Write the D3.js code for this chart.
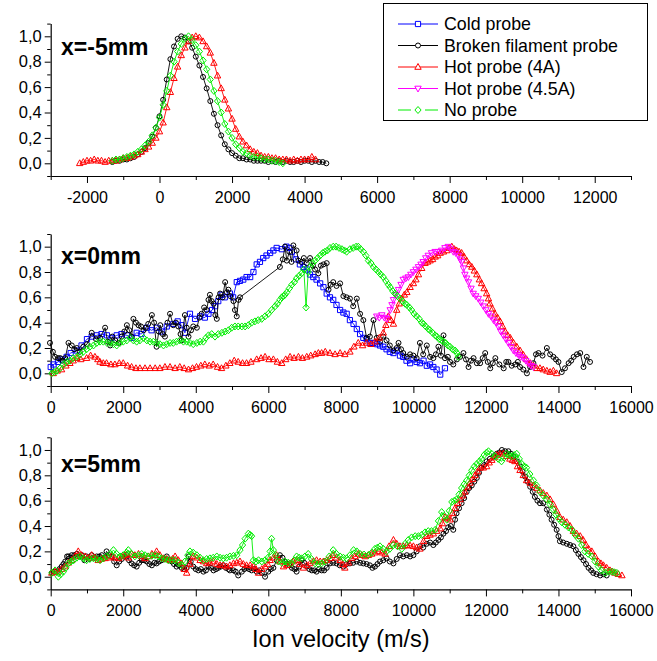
<!DOCTYPE html>
<html><head><meta charset="utf-8">
<script src="https://cdn.jsdelivr.net/npm/d3@7"></script>
<style>body{margin:0;background:#fff} text{font-family:"Liberation Sans",Arial,Helvetica,sans-serif}</style>
</head><body><svg id="c" width="657" height="661"></svg>
<script>
// ---------- DATA ----------
const seriesNames = ["Cold probe","Broken filament probe","Hot probe (4A)","Hot probe (4.5A)","No probe"];
const panelLabels = ["x=-5mm","x=0mm","x=5mm"];
const xTicksTop = [-2000,0,2000,4000,6000,8000,10000,12000];
const xTicksLower = [0,2000,4000,6000,8000,10000,12000,14000,16000];
const yTicks = [0,0.2,0.4,0.6,0.8,1.0];
const xTitle = "Ion velocity (m/s)";

// Panel x=-5mm
const topBroken = [[-1300,0.01],[-1200,0.02],[-1100,0.02],[-1000,0.03],[-900,0.03],[-800,0.04],[-700,0.05],[-600,0.07],[-500,0.09],[-400,0.12],[-300,0.16],[-200,0.21],[-100,0.28],[0,0.37],[100,0.50],[200,0.66],[300,0.82],[400,0.92],[500,0.98],[600,1.0],[700,0.99],[800,0.96],[900,0.91],[1000,0.84],[1100,0.77],[1200,0.68],[1300,0.59],[1400,0.49],[1500,0.39],[1600,0.30],[1700,0.22],[1800,0.15],[1900,0.11],[2000,0.08],[2100,0.06],[2200,0.04],[2300,0.04],[2400,0.03],[2500,0.03],[2600,0.02],[2700,0.02],[2800,0.02],[2900,0.02],[3000,0.01],[3100,0.02],[3200,0.01],[3300,0.02],[3400,0.01],[3500,0.02],[3600,0.01],[3700,0.01],[3800,0.02],[3900,0.01],[4000,0.02],[4100,0.02],[4200,0.01],[4300,0.02],[4400,0.01],[4500,0.01],[4600,0.0]];
const topHot4A = [[-2200,0.0],[-2100,0.01],[-2000,0.02],[-1900,0.02],[-1800,0.03],[-1700,0.02],[-1600,0.02],[-1500,0.01],[-1400,0.02],[-1300,0.02],[-1200,0.02],[-1100,0.03],[-1000,0.04],[-900,0.04],[-800,0.05],[-700,0.06],[-600,0.07],[-500,0.09],[-400,0.11],[-300,0.13],[-200,0.16],[-100,0.20],[0,0.25],[100,0.32],[200,0.44],[300,0.56],[400,0.67],[500,0.76],[600,0.85],[700,0.91],[800,0.96],[900,0.99],[1000,1.0],[1100,0.99],[1200,0.96],[1300,0.92],[1400,0.87],[1500,0.79],[1600,0.69],[1700,0.59],[1800,0.50],[1900,0.43],[2000,0.35],[2100,0.27],[2200,0.21],[2300,0.17],[2400,0.14],[2500,0.11],[2600,0.09],[2700,0.08],[2800,0.06],[2900,0.05],[3000,0.05],[3100,0.04],[3200,0.04],[3300,0.03],[3400,0.03],[3500,0.03],[3600,0.02],[3700,0.03],[3800,0.02],[3900,0.03],[4000,0.03],[4100,0.03],[4200,0.05],[4300,0.03]];
const topNone = [[-1300,0.02],[-1200,0.03],[-1100,0.03],[-1000,0.04],[-900,0.05],[-800,0.06],[-700,0.07],[-600,0.09],[-500,0.11],[-400,0.14],[-300,0.17],[-200,0.22],[-100,0.28],[0,0.36],[100,0.46],[200,0.57],[300,0.69],[400,0.80],[500,0.88],[600,0.94],[700,0.98],[800,1.0],[900,0.97],[1000,0.93],[1100,0.88],[1200,0.81],[1300,0.74],[1400,0.66],[1500,0.57],[1600,0.49],[1700,0.40],[1800,0.31],[1900,0.25],[2000,0.20],[2100,0.15],[2200,0.12],[2300,0.09],[2400,0.08],[2500,0.06],[2600,0.05],[2700,0.05],[2800,0.04],[2900,0.03],[3000,0.03],[3100,0.02],[3200,0.02],[3300,0.01],[3400,0.0]];

// Panel x=0mm
const midCold = [[0,0.05],[80,0.07],[200,0.09],[300,0.11],[440,0.13],[550,0.16],[720,0.18],[850,0.22],[1000,0.27],[1130,0.29],[1270,0.30],[1400,0.31],[1550,0.30],[1680,0.28],[1820,0.30],[1950,0.31],[2100,0.30],[2230,0.28],[2370,0.32],[2500,0.31],[2650,0.36],[2780,0.34],[2920,0.36],[3060,0.33],[3200,0.37],[3380,0.39],[3500,0.41],[3610,0.38],[3700,0.32],[3840,0.47],[3980,0.43],[4120,0.45],[4250,0.44],[4350,0.47],[4450,0.50],[4530,0.53],[4620,0.57],[4710,0.62],[4800,0.60],[4940,0.63],[5030,0.60],[5130,0.72],[5220,0.73],[5310,0.74],[5400,0.76],[5500,0.76],[5590,0.80],[5680,0.86],[5770,0.88],[5860,0.91],[5950,0.93],[6050,0.95],[6140,0.97],[6230,0.99],[6370,0.98],[6500,1.0],[6580,0.99],[6650,0.96],[6760,0.90],[6870,0.86],[6970,0.84],[7060,0.82],[7150,0.78],[7240,0.76],[7330,0.74],[7430,0.71],[7520,0.68],[7610,0.63],[7700,0.60],[7790,0.58],[7880,0.54],[7980,0.50],[8070,0.48],[8160,0.47],[8250,0.42],[8350,0.39],[8440,0.35],[8530,0.31],[8620,0.28],[8710,0.27],[8800,0.24],[8900,0.24],[9000,0.23],[9080,0.22],[9170,0.21],[9260,0.19],[9350,0.17],[9450,0.16],[9540,0.18],[9630,0.14],[9720,0.13],[9810,0.10],[9910,0.08],[10000,0.11],[10090,0.09],[10180,0.08],[10280,0.10],[10370,0.06],[10460,0.07],[10550,0.05],[10640,0.03],[10740,-0.01],[10870,0.04]];
const midBroken = [[-20,0.24],[60,0.17],[120,0.13],[200,0.12],[260,0.12],[330,0.10],[400,0.12],[490,0.24],[580,0.22],[650,0.19],[720,0.20],[800,0.17],[900,0.21],[1000,0.23],[1130,0.32],[1250,0.27],[1360,0.28],[1500,0.36],[1570,0.25],[1640,0.22],[1700,0.29],[1780,0.26],[1870,0.24],[1960,0.29],[2030,0.33],[2100,0.38],[2170,0.34],[2230,0.29],[2280,0.43],[2350,0.40],[2420,0.38],[2490,0.37],[2560,0.34],[2620,0.36],[2690,0.39],[2790,0.46],[2850,0.40],[2920,0.21],[2980,0.33],[3020,0.38],[3090,0.31],[3150,0.29],[3220,0.40],[3290,0.47],[3380,0.38],[3450,0.40],[3520,0.37],[3580,0.31],[3610,0.26],[3700,0.46],[3750,0.36],[3800,0.29],[3870,0.34],[3930,0.37],[4030,0.36],[4100,0.44],[4160,0.47],[4230,0.52],[4300,0.50],[4350,0.58],[4390,0.62],[4440,0.57],[4490,0.55],[4540,0.46],[4580,0.43],[4630,0.60],[4670,0.63],[4740,0.60],[4810,0.72],[4860,0.64],[4900,0.66],[4950,0.61],[5040,0.57],[5080,0.50],[5130,0.45],[5180,0.58],[5220,0.60],[6320,0.84],[6400,0.90],[6460,1.0],[6510,0.89],[6580,0.96],[6640,0.88],[6690,1.01],[6780,0.97],[6830,0.89],[6920,0.88],[6980,0.91],[7060,0.87],[7150,0.91],[7230,0.85],[7290,0.82],[7380,0.79],[7450,0.85],[7520,0.86],[7610,0.87],[7660,0.66],[7720,0.70],[7790,0.72],[7880,0.69],[7980,0.71],[8070,0.61],[8160,0.60],[8250,0.59],[8340,0.53],[8440,0.59],[8530,0.47],[8620,0.42],[8710,0.28],[8800,0.29],[8900,0.42],[8990,0.28],[9080,0.25],[9170,0.29],[9260,0.26],[9350,0.22],[9450,0.18],[9540,0.20],[9590,0.24],[9660,0.19],[9720,0.16],[9820,0.13],[9910,0.15],[10000,0.14],[10090,0.12],[10180,0.24],[10270,0.15],[10370,0.22],[10460,0.13],[10550,0.12],[10620,0.15],[10690,0.21],[10760,0.14],[10830,0.30],[10870,0.12],[10950,0.13],[11010,0.09],[11100,0.07],[11200,0.11],[11290,0.13],[11380,0.16],[11450,0.11],[11520,0.05],[11590,0.10],[11660,0.12],[11750,0.08],[11840,0.08],[11910,0.12],[11980,0.16],[12050,0.09],[12120,0.04],[12190,0.08],[12260,0.12],[12370,0.07],[12490,0.04],[12560,0.09],[12620,0.09],[12710,0.06],[12810,0.07],[12880,0.09],[12940,0.05],[13030,0.03],[13130,0.0],[13220,0.05],[13310,0.08],[13380,0.15],[13450,0.16],[13560,0.14],[13680,0.20],[13770,0.15],[13860,0.13],[13930,0.11],[14000,0.09],[14090,0.01],[14180,0.04],[14280,0.08],[14350,0.10],[14420,0.13],[14510,0.15],[14600,0.16],[14690,0.05],[14780,0.13],[14870,0.09]];
const midHot4A = [[70,0.0],[180,0.02],[300,0.03],[420,0.06],[530,0.08],[620,0.10],[720,0.12],[830,0.11],[990,0.12],[1100,0.14],[1220,0.13],[1300,0.11],[1360,0.09],[1450,0.08],[1540,0.08],[1660,0.07],[1770,0.07],[1890,0.08],[2000,0.08],[2120,0.06],[2230,0.05],[2350,0.04],[2460,0.04],[2600,0.04],[2740,0.04],[2880,0.04],[3010,0.04],[3150,0.05],[3290,0.05],[3430,0.04],[3560,0.05],[3680,0.04],[3800,0.03],[3910,0.04],[4020,0.05],[4140,0.06],[4250,0.07],[4370,0.06],[4480,0.07],[4600,0.05],[4710,0.04],[4830,0.06],[4940,0.08],[5060,0.10],[5170,0.09],[5290,0.08],[5400,0.08],[5520,0.09],[5680,0.11],[5800,0.12],[5910,0.13],[6020,0.11],[6140,0.11],[6250,0.09],[6370,0.08],[6480,0.11],[6600,0.13],[6710,0.12],[6830,0.13],[6940,0.12],[7060,0.13],[7170,0.14],[7290,0.15],[7380,0.16],[7470,0.16],[7570,0.17],[7700,0.16],[7840,0.15],[7980,0.16],[8110,0.15],[8250,0.17],[8360,0.21],[8480,0.24],[8600,0.22],[8710,0.24],[8830,0.23],[8940,0.25],[9060,0.28],[9170,0.32],[9240,0.38],[9310,0.45],[9380,0.42],[9450,0.39],[9540,0.50],[9610,0.55],[9680,0.59],[9750,0.62],[9820,0.64],[9910,0.68],[10000,0.71],[10070,0.74],[10140,0.78],[10230,0.83],[10320,0.87],[10390,0.88],[10460,0.89],[10530,0.90],[10600,0.92],[10670,0.93],[10740,0.95],[10830,0.96],[10920,0.97],[10990,0.99],[11060,1.0],[11130,0.98],[11190,0.97],[11260,0.96],[11330,0.95],[11400,0.92],[11470,0.89],[11540,0.86],[11610,0.84],[11680,0.81],[11750,0.78],[11820,0.74],[11880,0.71],[11950,0.67],[12020,0.63],[12070,0.59],[12110,0.55],[12180,0.51],[12250,0.47],[12320,0.44],[12390,0.41],[12460,0.37],[12530,0.33],[12600,0.30],[12670,0.28],[12760,0.24],[12850,0.21],[12940,0.18],[13030,0.145],[13120,0.11],[13220,0.08],[13310,0.06],[13400,0.04],[13490,0.04],[13580,0.03],[13680,0.02],[13770,0.01],[13860,0.02],[13950,0.0]];
const midHot45A = [[8990,0.45],[9060,0.44],[9130,0.46],[9200,0.44],[9270,0.43],[9360,0.50],[9410,0.54],[9450,0.58],[9520,0.62],[9590,0.66],[9660,0.70],[9720,0.74],[9790,0.75],[9860,0.76],[9930,0.78],[10000,0.80],[10070,0.82],[10140,0.84],[10210,0.86],[10270,0.88],[10340,0.91],[10410,0.93],[10500,0.95],[10600,0.96],[10690,0.96],[10780,0.97],[10870,0.99],[10960,1.0],[11030,0.98],[11100,0.96],[11170,0.95],[11240,0.93],[11290,0.90],[11330,0.88],[11380,0.83],[11420,0.78],[11470,0.75],[11520,0.72],[11590,0.67],[11650,0.63],[11720,0.61],[11790,0.59],[11860,0.56],[11930,0.53],[12000,0.50],[12070,0.47],[12140,0.45],[12210,0.42],[12280,0.40],[12340,0.37],[12410,0.33],[12480,0.30],[12550,0.27],[12620,0.24],[12690,0.21],[12760,0.18],[12830,0.16],[12900,0.145],[12960,0.13],[13030,0.12],[13100,0.10],[13170,0.08],[13240,0.06],[13310,0.05]];
const midNone = [[30,0.0],[100,0.01],[170,0.02],[260,0.04],[350,0.07],[440,0.09],[530,0.10],[620,0.12],[720,0.13],[810,0.15],[900,0.17],[990,0.19],[1080,0.21],[1180,0.22],[1270,0.24],[1360,0.25],[1450,0.25],[1550,0.24],[1640,0.24],[1730,0.23],[1820,0.22],[1910,0.24],[2000,0.25],[2100,0.26],[2190,0.28],[2280,0.26],[2370,0.25],[2460,0.26],[2560,0.28],[2650,0.26],[2740,0.25],[2830,0.25],[2920,0.24],[3010,0.23],[3110,0.22],[3200,0.23],[3290,0.24],[3380,0.24],[3470,0.25],[3560,0.26],[3660,0.25],[3750,0.25],[3840,0.24],[3930,0.23],[4030,0.24],[4120,0.25],[4210,0.25],[4280,0.28],[4350,0.30],[4440,0.31],[4530,0.29],[4620,0.31],[4720,0.32],[4810,0.33],[4900,0.34],[4990,0.36],[5080,0.37],[5170,0.37],[5270,0.37],[5360,0.37],[5450,0.38],[5540,0.40],[5630,0.41],[5720,0.42],[5820,0.43],[5910,0.45],[6000,0.47],[6090,0.50],[6190,0.53],[6250,0.55],[6320,0.58],[6370,0.60],[6420,0.61],[6460,0.62],[6510,0.64],[6580,0.67],[6650,0.70],[6720,0.72],[6780,0.75],[6850,0.77],[6920,0.79],[6980,0.82],[7040,0.52],[7100,0.80],[7150,0.84],[7220,0.87],[7290,0.89],[7360,0.91],[7430,0.93],[7500,0.95],[7560,0.96],[7630,0.97],[7700,0.99],[7790,1.0],[7870,1.0],[7950,0.99],[8030,0.98],[8100,0.97],[8160,0.96],[8250,0.98],[8340,0.99],[8420,1.0],[8480,1.0],[8550,0.98],[8620,0.96],[8690,0.93],[8760,0.89],[8830,0.87],[8900,0.84],[8970,0.82],[9040,0.80],[9100,0.78],[9170,0.76],[9240,0.73],[9310,0.70],[9360,0.68],[9430,0.65],[9490,0.63],[9560,0.61],[9630,0.59],[9700,0.57],[9770,0.55],[9820,0.54],[9890,0.52],[9950,0.50],[10020,0.47],[10090,0.45],[10160,0.43],[10230,0.40],[10280,0.39],[10340,0.37],[10410,0.35],[10460,0.34],[10530,0.32],[10600,0.30],[10650,0.29],[10710,0.27],[10780,0.26],[10830,0.25],[10890,0.24],[10950,0.22],[11010,0.21],[11080,0.19],[11150,0.18],[11200,0.16],[11240,0.13]];

// Panel x=5mm
const botBroken = [[30,0.03],[100,0.04],[170,0.04],[240,0.06],[300,0.08],[350,0.10],[400,0.12],[450,0.16],[490,0.16],[540,0.15],[580,0.17],[650,0.17],[720,0.18],[790,0.16],[860,0.17],[930,0.13],[990,0.16],[1060,0.14],[1130,0.17],[1200,0.15],[1270,0.16],[1340,0.16],[1410,0.17],[1480,0.15],[1540,0.20],[1610,0.17],[1680,0.16],[1750,0.12],[1820,0.09],[1890,0.12],[1960,0.14],[2030,0.16],[2100,0.17],[2160,0.13],[2230,0.105],[2300,0.09],[2370,0.08],[2440,0.11],[2510,0.13],[2580,0.13],[2650,0.12],[2720,0.10],[2790,0.09],[2860,0.11],[2920,0.105],[2990,0.12],[3060,0.13],[3130,0.14],[3200,0.16],[3270,0.13],[3340,0.12],[3400,0.10],[3470,0.08],[3540,0.09],[3610,0.07],[3680,0.06],[3750,0.07],[3800,0.16],[3860,0.12],[3930,0.08],[4000,0.06],[4070,0.05],[4140,0.06],[4210,0.04],[4280,0.05],[4350,0.08],[4420,0.07],[4490,0.05],[4560,0.06],[4620,0.07],[4690,0.08],[4760,0.09],[4830,0.07],[4900,0.06],[4940,0.05],[5040,0.05],[5100,0.04],[5170,0.01],[5270,0.04],[5340,0.06],[5400,0.07],[5470,0.06],[5540,0.05],[5610,0.06],[5680,0.04],[5750,0.05],[5820,0.03],[5910,0.0],[6000,0.04],[6070,0.06],[6140,0.07],[6230,0.13],[6320,0.17],[6390,0.15],[6460,0.12],[6510,0.105],[6580,0.09],[6650,0.07],[6720,0.06],[6780,0.04],[6850,0.08],[6920,0.13],[6990,0.11],[7060,0.08],[7130,0.06],[7200,0.05],[7270,0.05],[7330,0.04],[7400,0.06],[7470,0.05],[7540,0.05],[7610,0.07],[7700,0.105],[7790,0.11],[7880,0.105],[7970,0.09],[8070,0.08],[8160,0.10],[8250,0.105],[8340,0.11],[8440,0.12],[8530,0.11],[8620,0.105],[8710,0.10],[8800,0.09],[8870,0.07],[8940,0.08],[9010,0.10],[9080,0.12],[9170,0.13],[9260,0.145],[9350,0.12],[9450,0.105],[9540,0.14],[9630,0.17],[9720,0.16],[9820,0.17],[9910,0.16],[10000,0.17],[10090,0.20],[10180,0.24],[10270,0.23],[10370,0.26],[10460,0.27],[10550,0.25],[10620,0.27],[10690,0.29],[10760,0.31],[10830,0.34],[10900,0.36],[10960,0.39],[11030,0.40],[11100,0.37],[11150,0.45],[11190,0.50],[11260,0.54],[11330,0.58],[11400,0.62],[11470,0.67],[11540,0.70],[11610,0.72],[11680,0.75],[11750,0.78],[11810,0.82],[11880,0.86],[11950,0.88],[12020,0.91],[12110,0.93],[12210,0.95],[12300,0.97],[12370,0.98],[12440,1.0],[12530,0.99],[12620,0.99],[12690,0.97],[12760,0.95],[12850,0.91],[12940,0.87],[13010,0.83],[13080,0.79],[13150,0.75],[13220,0.71],[13290,0.67],[13350,0.63],[13420,0.60],[13490,0.58],[13580,0.58],[13680,0.53],[13750,0.49],[13810,0.45],[13880,0.41],[13950,0.37],[14000,0.32],[14040,0.28],[14130,0.27],[14230,0.26],[14320,0.25],[14410,0.24],[14480,0.21],[14550,0.18],[14620,0.155],[14690,0.13],[14760,0.10],[14830,0.07],[14900,0.05],[14960,0.03],[15050,0.02],[15150,0.01],[15240,0.02],[15330,0.01]];
const botHot4A = [[30,0.03],[120,0.04],[210,0.04],[300,0.06],[400,0.08],[490,0.11],[580,0.13],[670,0.16],[760,0.20],[850,0.17],[950,0.16],[1040,0.15],[1130,0.17],[1220,0.15],[1310,0.13],[1400,0.14],[1500,0.145],[1590,0.15],[1680,0.16],[1770,0.15],[1870,0.145],[1960,0.16],[2050,0.17],[2140,0.15],[2230,0.18],[2320,0.17],[2420,0.18],[2510,0.16],[2600,0.145],[2690,0.16],[2790,0.18],[2860,0.17],[2920,0.20],[3010,0.17],[3110,0.145],[3200,0.14],[3290,0.13],[3360,0.14],[3430,0.16],[3520,0.13],[3610,0.105],[3680,0.06],[3750,0.03],[3840,0.10],[3930,0.16],[4030,0.15],[4120,0.13],[4210,0.12],[4300,0.105],[4390,0.11],[4490,0.12],[4580,0.10],[4670,0.09],[4760,0.09],[4850,0.08],[4940,0.09],[5040,0.105],[5130,0.11],[5220,0.12],[5310,0.10],[5400,0.09],[5500,0.09],[5590,0.08],[5660,0.06],[5730,0.03],[5820,0.06],[5910,0.08],[5980,0.10],[6050,0.13],[6140,0.15],[6230,0.17],[6320,0.12],[6420,0.08],[6510,0.09],[6600,0.105],[6690,0.12],[6780,0.13],[6870,0.10],[6970,0.07],[7060,0.09],[7150,0.105],[7240,0.12],[7330,0.13],[7430,0.12],[7520,0.12],[7610,0.13],[7700,0.145],[7790,0.17],[7880,0.15],[7980,0.13],[8050,0.10],[8110,0.07],[8210,0.11],[8300,0.145],[8390,0.16],[8480,0.18],[8580,0.17],[8670,0.16],[8760,0.17],[8850,0.18],[8940,0.19],[9040,0.20],[9130,0.19],[9220,0.18],[9330,0.24],[9450,0.29],[9540,0.26],[9630,0.24],[9720,0.24],[9820,0.25],[9910,0.245],[10000,0.24],[10090,0.23],[10180,0.22],[10280,0.28],[10370,0.32],[10460,0.33],[10550,0.34],[10640,0.36],[10740,0.38],[10800,0.42],[10870,0.47],[10940,0.46],[11010,0.45],[11080,0.50],[11150,0.54],[11220,0.58],[11290,0.61],[11360,0.64],[11420,0.67],[11490,0.71],[11560,0.74],[11630,0.77],[11700,0.80],[11770,0.83],[11840,0.86],[11930,0.86],[12020,0.87],[12090,0.90],[12160,0.92],[12230,0.94],[12300,0.96],[12390,0.97],[12480,0.97],[12570,0.95],[12660,0.93],[12730,0.92],[12800,0.91],[12870,0.87],[12940,0.84],[13030,0.80],[13120,0.76],[13220,0.74],[13310,0.72],[13400,0.70],[13490,0.68],[13580,0.66],[13680,0.64],[13770,0.61],[13860,0.57],[13950,0.52],[14040,0.47],[14130,0.45],[14230,0.43],[14320,0.40],[14410,0.36],[14500,0.34],[14600,0.32],[14680,0.29],[14760,0.25],[14830,0.22],[14920,0.20],[15010,0.16],[15100,0.12],[15170,0.105],[15240,0.09],[15330,0.07],[15420,0.05],[15490,0.04],[15560,0.03],[15650,0.02],[15750,0.01]];
const botNone = [[30,0.03],[120,0.05],[210,0.0],[280,0.02],[350,0.04],[420,0.07],[490,0.105],[560,0.12],[630,0.13],[720,0.15],[810,0.16],[900,0.145],[990,0.13],[1080,0.14],[1180,0.145],[1270,0.14],[1360,0.13],[1450,0.145],[1540,0.16],[1640,0.18],[1730,0.21],[1820,0.18],[1910,0.16],[2000,0.17],[2090,0.19],[2140,0.21],[2230,0.18],[2320,0.16],[2420,0.17],[2510,0.18],[2600,0.17],[2690,0.16],[2790,0.165],[2880,0.17],[2970,0.16],[3060,0.145],[3150,0.14],[3240,0.13],[3340,0.13],[3430,0.13],[3520,0.11],[3610,0.09],[3700,0.12],[3780,0.17],[3840,0.20],[3930,0.19],[4030,0.17],[4120,0.15],[4210,0.13],[4300,0.14],[4390,0.145],[4480,0.15],[4580,0.16],[4670,0.15],[4760,0.145],[4850,0.15],[4940,0.16],[5040,0.165],[5130,0.17],[5220,0.21],[5290,0.25],[5360,0.30],[5450,0.34],[5500,0.33],[5540,0.32],[5590,0.13],[5660,0.12],[5730,0.13],[5820,0.12],[5910,0.13],[5990,0.15],[6050,0.20],[6090,0.30],[6140,0.21],[6200,0.17],[6280,0.12],[6370,0.11],[6460,0.12],[6550,0.11],[6640,0.105],[6710,0.13],[6780,0.16],[6850,0.15],[6920,0.145],[7010,0.16],[7100,0.18],[7190,0.14],[7290,0.105],[7380,0.10],[7470,0.105],[7560,0.12],[7680,0.16],[7790,0.21],[7880,0.18],[7980,0.16],[8070,0.15],[8160,0.145],[8250,0.17],[8350,0.21],[8440,0.20],[8530,0.18],[8640,0.175],[8760,0.17],[8850,0.19],[8940,0.22],[9010,0.23],[9080,0.24],[9170,0.22],[9260,0.20],[9350,0.22],[9450,0.25],[9560,0.24],[9680,0.22],[9770,0.26],[9860,0.29],[9950,0.31],[10050,0.32],[10140,0.32],[10230,0.33],[10320,0.35],[10410,0.36],[10500,0.36],[10600,0.37],[10690,0.44],[10780,0.51],[10850,0.48],[10920,0.45],[10990,0.52],[11060,0.59],[11130,0.60],[11190,0.61],[11260,0.65],[11330,0.70],[11400,0.73],[11470,0.76],[11540,0.80],[11610,0.84],[11680,0.87],[11750,0.89],[11820,0.91],[11880,0.93],[11950,0.96],[12020,0.98],[12070,0.99],[12160,0.97],[12250,0.95],[12340,0.93],[12430,0.91],[12500,0.94],[12570,0.97],[12640,0.96],[12710,0.95],[12780,0.96],[12850,0.97],[12920,0.93],[12990,0.89],[13060,0.87],[13120,0.86],[13210,0.81],[13310,0.76],[13400,0.72],[13490,0.67],[13580,0.64],[13680,0.61],[13770,0.57],[13860,0.53],[13930,0.49],[14000,0.46],[14090,0.43],[14180,0.41],[14270,0.39],[14370,0.37],[14460,0.33],[14550,0.30],[14640,0.25],[14730,0.20],[14820,0.18],[14920,0.16],[15010,0.12],[15100,0.08],[15190,0.05],[15290,0.03],[15380,0.04],[15470,0.04],[15540,0.035],[15610,0.03]];

// ---------- DRAWING ----------
const styles = {
  "Cold probe": {color:"#0000ff", sym:"square"},
  "Broken filament probe": {color:"#000000", sym:"circle"},
  "Hot probe (4A)": {color:"#ff0000", sym:"up"},
  "Hot probe (4.5A)": {color:"#ff00ff", sym:"down"},
  "No probe": {color:"#00ee00", sym:"diamond"}
};
function markerPath(sym){
  switch(sym){
    case "square": return "M-2.6,-2.6h5.2v5.2h-5.2Z";
    case "circle": return "M2.5,0A2.5,2.5 0 1,1 -2.5,0A2.5,2.5 0 1,1 2.5,0Z";
    case "up": return "M0,-3.5L3.2,2.3L-3.2,2.3Z";
    case "down": return "M0,3.5L3.2,-2.3L-3.2,-2.3Z";
    case "diamond": return "M0,-3.5L3.1,0L0,3.5L-3.1,0Z";
  }
}
const svg = d3.select("#c");
const X0 = 50.7, X1 = 631;
const panels = [
  {label:panelLabels[0], xd:[-3000,13000], yr:[176,23.6], ticks:xTicksTop, labY:55,
   series:[["Broken filament probe",topBroken],["Hot probe (4A)",topHot4A],["No probe",topNone]]},
  {label:panelLabels[1], xd:[0,16000], yr:[386,234], ticks:xTicksLower, labY:264,
   series:[["Cold probe",midCold],["Broken filament probe",midBroken],["Hot probe (4A)",midHot4A],["Hot probe (4.5A)",midHot45A],["No probe",midNone]]},
  {label:panelLabels[2], xd:[0,16000], yr:[589.4,437.3], ticks:xTicksLower, labY:472,
   series:[["Broken filament probe",botBroken],["Hot probe (4A)",botHot4A],["No probe",botNone]]}
];
const fmt = v => d3.format(".1f")(v).replace(".", ",");
panels.forEach(p => {
  const x = d3.scaleLinear(p.xd, [X0, X1]);
  const y = d3.scaleLinear([-0.1, 1.1], p.yr);
  const g = svg.append("g");
  const minorX = d3.range(p.xd[0], p.xd[1] + 1, 1000).filter(v => !p.ticks.includes(v));
  g.append("g").attr("transform", `translate(0,${p.yr[0]})`)
    .call(d3.axisBottom(x).tickValues(minorX).tickSize(4).tickSizeOuter(0).tickFormat(""))
    .call(s => s.select(".domain").remove());
  g.append("g").attr("transform", `translate(0,${p.yr[0]})`)
    .call(d3.axisBottom(x).tickValues(p.ticks).tickSize(7).tickSizeOuter(0).tickFormat(d3.format("d")))
    .call(s => s.selectAll("text").attr("font-size", 16).attr("fill", "#000").attr("dy", "1.05em").text(d => String(d)));
  const minorY = [-0.1,0.1,0.3,0.5,0.7,0.9,1.1];
  g.append("g").attr("transform", `translate(${X0},0)`)
    .call(d3.axisLeft(y).tickValues(minorY).tickSize(3.5).tickSizeOuter(0).tickFormat(""))
    .call(s => s.select(".domain").remove());
  g.append("g").attr("transform", `translate(${X0},0)`)
    .call(d3.axisLeft(y).tickValues(yTicks).tickSize(6).tickSizeOuter(0).tickFormat(fmt))
    .call(s => s.selectAll("text").attr("font-size", 16.5).attr("fill", "#000").attr("x", -9));
  g.selectAll(".domain").attr("stroke", "#000").attr("stroke-width", 1.2);
  g.selectAll(".tick line").attr("stroke", "#000").attr("stroke-width", 1);
  const line = d3.line().x(d => x(d[0])).y(d => y(d[1]));
  p.series.forEach(([name, data]) => {
    const st = styles[name];
    const sg = g.append("g");
    sg.append("path").attr("d", line(data)).attr("fill", "none").attr("stroke", st.color).attr("stroke-width", 0.9);
    sg.selectAll("path.m").data(data).join("path").attr("class", "m")
      .attr("d", markerPath(st.sym))
      .attr("transform", d => `translate(${x(d[0])},${y(d[1])})`)
      .attr("fill", "none").attr("stroke", st.color).attr("stroke-width", 1);
  });
  g.append("text").attr("x", 61).attr("y", p.labY).attr("font-size", 23).attr("font-weight", "bold").text(p.label);
});
svg.append("text").attr("x", (X0 + X1) / 2).attr("y", 647).attr("text-anchor", "middle").attr("font-size", 23.5).text(xTitle);
const lg = svg.append("g");
lg.append("rect").attr("x", 383.5).attr("y", 3.5).attr("width", 264).attr("height", 117).attr("fill", "#fff").attr("stroke", "#000").attr("stroke-width", 1);
seriesNames.forEach((name, i) => {
  const st = styles[name];
  const cy = 24 + i * 21.5;
  if (name === "No probe") {
    lg.append("line").attr("x1", 398).attr("x2", 411).attr("y1", cy).attr("y2", cy).attr("stroke", st.color);
    lg.append("line").attr("x1", 425).attr("x2", 438).attr("y1", cy).attr("y2", cy).attr("stroke", st.color);
  } else {
    lg.append("line").attr("x1", 398).attr("x2", 438).attr("y1", cy).attr("y2", cy).attr("stroke", st.color);
  }
  lg.append("path").attr("d", markerPath(st.sym)).attr("transform", `translate(418,${cy})`).attr("fill", "#fff").attr("stroke", st.color);
  lg.append("text").attr("x", 444).attr("y", cy).attr("dy", "0.36em").attr("font-size", 17.8).text(name);
});
</script></body></html>
